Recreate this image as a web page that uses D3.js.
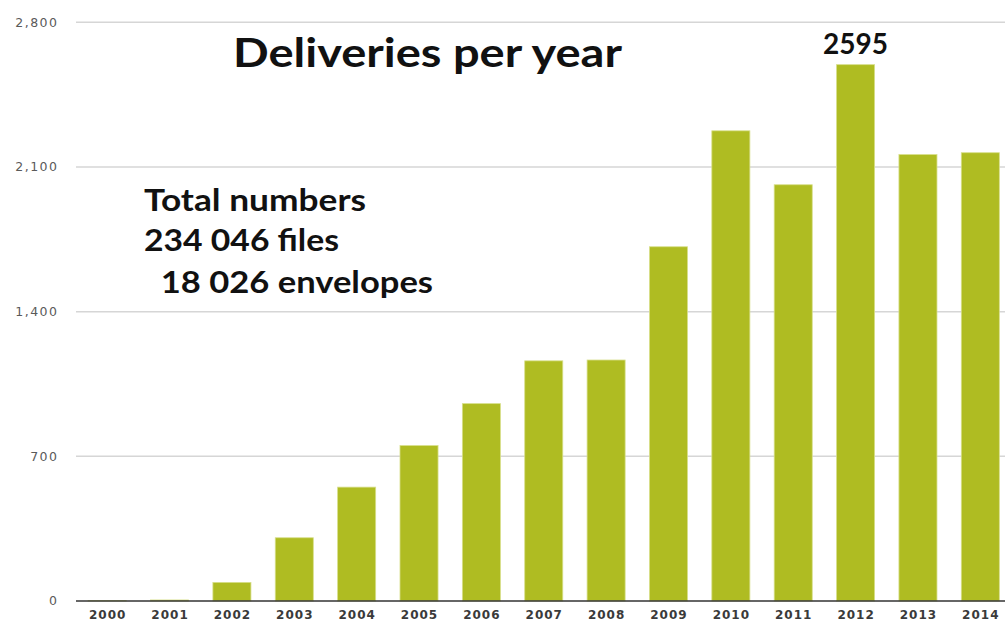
<!DOCTYPE html>
<meta charset="utf-8">
<html>
<style>
body { margin: 0; background: #fff; }
.grid line { stroke: #d6d6d6; stroke-width: 1.5px; }
.ylab text { font-family: "DejaVu Sans", Verdana, sans-serif; font-size: 12.5px; letter-spacing: 1.5px; fill: #5a5a5a; }
.xlab text { font-family: "DejaVu Sans", Verdana, sans-serif; font-size: 12px; font-weight: bold; letter-spacing: 1px; fill: #3a3a3a; }
.note { font-family: Lato, "Open Sans", sans-serif; font-weight: bold; fill: #111; }
</style>
<svg width="1005" height="622"></svg>
<script src="https://d3js.org/d3.v7.min.js"></script>
<script>
var years = ["2000","2001","2002","2003","2004","2005","2006","2007","2008","2009","2010","2011","2012","2013","2014"];
var deliveries = [2, 5, 90, 306, 551, 752, 955, 1162, 1166, 1714, 2275, 2014, 2595, 2160, 2169];
var yTicks = [0, 700, 1400, 2100, 2800];
var totalLines = ["Total numbers", "234 046 files", "  18 026 envelopes"];

var svg = d3.select("svg"),
    width = +svg.attr("width"),
    height = +svg.attr("height");

var x = d3.scaleBand()
    .domain(years)
    .range([76, 1011.5])
    .paddingInner(0.39)
    .paddingOuter(0.195);

var y = d3.scaleLinear()
    .domain([0, 2800])
    .range([601, 22.3]);

//gridlines
svg.append("g").attr("class", "grid")
  .selectAll("line")
  .data(yTicks.filter(function(d) { return d > 0; }))
  .enter().append("line")
    .attr("x1", 76).attr("x2", width)
    .attr("y1", function(d) { return y(d); })
    .attr("y2", function(d) { return y(d); });

//y labels (letter-spacing adds a trailing gap, so nudge right)
svg.append("g").attr("class", "ylab")
  .selectAll("text")
  .data(yTicks)
  .enter().append("text")
    .attr("x", 58.5)
    .attr("y", function(d) { return y(d); })
    .attr("dy", "0.35em")
    .attr("text-anchor", "end")
    .text(d3.format(","));

//bars
svg.append("g")
  .selectAll("rect")
  .data(deliveries)
  .enter().append("rect")
    .attr("x", function(d, i) { return x(years[i]); })
    .attr("y", function(d) { return y(d); })
    .attr("width", x.bandwidth())
    .attr("height", function(d) { return y(0) - y(d); })
    .attr("fill", "#afbc22")
    .attr("stroke", "#d7df8a")
    .attr("stroke-width", 0.8);

//baseline
svg.append("line")
    .attr("x1", 76).attr("x2", width)
    .attr("y1", y(0)).attr("y2", y(0))
    .attr("stroke", "#333").attr("stroke-width", 1.6);

//x labels
svg.append("g").attr("class", "xlab")
  .selectAll("text")
  .data(years)
  .enter().append("text")
    .attr("x", function(d) { return x(d) + x.bandwidth() / 2 + 0.5; })
    .attr("y", 618.5)
    .attr("text-anchor", "middle")
    .text(function(d) { return d; });

//title and notes
svg.append("text").attr("class", "note")
    .attr("x", 233).attr("y", 66.5)
    .attr("font-size", 40)
    .attr("textLength", 389).attr("lengthAdjust", "spacingAndGlyphs")
    .text("Deliveries per year");

var maxI = deliveries.indexOf(d3.max(deliveries));
svg.append("text").attr("class", "note")
    .attr("x", x(years[maxI]) + x.bandwidth() / 2)
    .attr("y", 53.5)
    .attr("text-anchor", "middle")
    .attr("font-size", 28)
    .text(deliveries[maxI]);

var noteX = [144, 144, 144];
var noteW = [222, 195, 289];
var noteY = [210.5, 251, 292.5];
svg.append("g")
  .selectAll("text")
  .data(totalLines)
  .enter().append("text")
    .attr("class", "note")
    .attr("xml:space", "preserve")
    .style("white-space", "pre")
    .attr("x", function(d, i) { return noteX[i]; })
    .attr("y", function(d, i) { return noteY[i]; })
    .attr("font-size", 30)
    .attr("textLength", function(d, i) { return noteW[i]; })
    .attr("lengthAdjust", "spacingAndGlyphs")
    .text(function(d) { return d; });
</script>
</html>
